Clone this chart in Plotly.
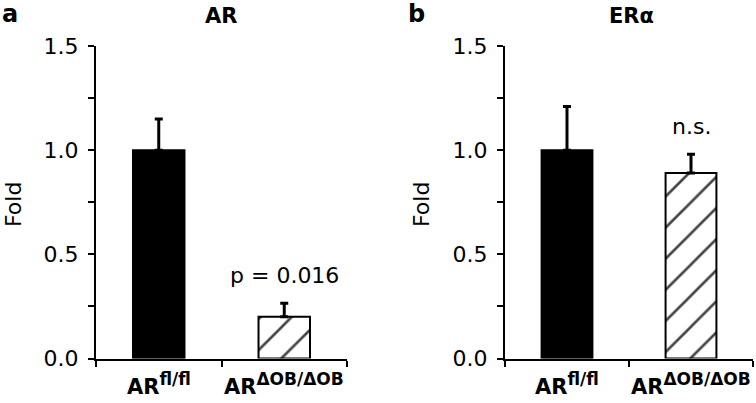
import plotly.graph_objects as go

categories = ["AR", "AR"]
category_sups = ["fl/fl", "ΔOB/ΔOB"]
ar_values = [1.0, 0.20]
ar_errors = [0.15, 0.065]
era_values = [1.0, 0.89]
era_errors = [0.21, 0.09]
titles = ["AR", "ERα"]
panel_letters = ["a", "b"]
annot_texts = ["p = 0.016", "n.s."]

W, H = 756, 403
FONT = "DejaVu Sans, Arial, sans-serif"

def px(x):
    return x / W

def py(y):
    return 1 - y / H

fig = go.Figure()

tick_labels = [f"<b>{c}<sup><span style='font-size:17px'>{s}</span></sup></b>"
               for c, s in zip(categories, category_sups)]

def add_panel(idx, values, errors):
    xa = "x" if idx == 0 else "x2"
    ya = "y" if idx == 0 else "y2"
    fig.add_trace(go.Bar(
        x=[0, 1], y=values,
        xaxis=xa, yaxis=ya, width=0.41,
        marker=dict(
            color=["black", "white"],
            line=dict(color="black", width=2),
            pattern=dict(shape=["", "/"], fgcolor="#2a2a2a", fgopacity=1, bgcolor="white",
                         size=22, solidity=0.12, fillmode="overlay"),
        ),
        error_y=dict(type="data", array=errors, arrayminus=[0, 0], symmetric=False,
                     color="black", thickness=3, width=4),
        showlegend=False,
        hoverinfo="skip",
    ))

add_panel(0, ar_values, ar_errors)
add_panel(1, era_values, era_errors)

axis_common_x = dict(
    type="linear", range=[-0.5, 1.5],
    tickvals=[-0.5, 0.5, 1.5], ticks="outside", ticklen=6, tickwidth=2,
    tickcolor="black", showticklabels=False,
    showline=True, linecolor="black", linewidth=2, showgrid=False, zeroline=False,
    automargin=False, fixedrange=True,
)
axis_common_y = dict(
    range=[0, 1.5], tickvals=[0, 0.5, 1.0, 1.5], ticktext=["0.0", "0.5", "1.0", "1.5"],
    ticks="outside", ticklen=6, tickwidth=2, tickcolor="black", ticklabelstandoff=5,
    minor=dict(tickvals=[0.25, 0.75, 1.25], ticks="outside", ticklen=6, tickwidth=2, tickcolor="black"),
    showline=True, linecolor="black", linewidth=2, showgrid=False, zeroline=False,
    tickfont=dict(family=FONT, size=22, color="black"), automargin=False, fixedrange=True,
)

ydom = [py(358.5), py(46)]
fig.update_layout(
    width=W, height=H, margin=dict(l=0, r=0, t=0, b=0),
    paper_bgcolor="white", plot_bgcolor="white",
    xaxis=dict(domain=[px(96), px(347)], anchor="y", **axis_common_x),
    yaxis=dict(domain=ydom, anchor="x", **axis_common_y),
    xaxis2=dict(domain=[px(505), px(753)], anchor="y2", **axis_common_x),
    yaxis2=dict(domain=ydom, anchor="x2", **axis_common_y),
    font=dict(family=FONT, color="black"),
)

anns = []
C = dict(xanchor="center", yanchor="middle", showarrow=False)
# category labels (under each bar)
for xr, yr in (("x", "y"), ("x2", "y2")):
    for i, lab in enumerate(tick_labels):
        anns.append(dict(text=lab, x=i, y=0, xref=xr, yref=yr, xanchor="center", yanchor="top",
                         yshift=-8, showarrow=False, font=dict(size=21, family=FONT)))
# panel letters
anns.append(dict(text=f"<b>{panel_letters[0]}</b>", x=px(10), y=py(14), xref="paper", yref="paper",
                 font=dict(size=24, family=FONT), **C))
anns.append(dict(text=f"<b>{panel_letters[1]}</b>", x=px(416), y=py(14), xref="paper", yref="paper",
                 font=dict(size=24, family=FONT), **C))
# titles
anns.append(dict(text=f"<b>{titles[0]}</b>", x=px(221), y=py(16), xref="paper", yref="paper",
                 font=dict(size=21, family=FONT), **C))
anns.append(dict(text=f"<b>{titles[1]}</b>", x=px(631), y=py(16), xref="paper", yref="paper",
                 font=dict(size=21, family=FONT), **C))
# y titles
anns.append(dict(text="Fold", x=px(13), y=py(205), xref="paper", yref="paper", textangle=-90,
                 font=dict(size=22, family=FONT), **C))
anns.append(dict(text="Fold", x=px(421), y=py(205), xref="paper", yref="paper", textangle=-90,
                 font=dict(size=22, family=FONT), **C))
# significance annotations
anns.append(dict(text=annot_texts[0], x=1, y=ar_values[1] + ar_errors[1], xref="x", yref="y",
                 yshift=28, font=dict(size=22, family=FONT), **C))
anns.append(dict(text=annot_texts[1], x=1, y=era_values[1] + era_errors[1], xref="x2", yref="y2",
                 yshift=28, font=dict(size=22, family=FONT), **C))
fig.update_layout(annotations=anns)

fig.write_html(
    "out.html",
    config={"displayModeBar": False, "staticPlot": True},
    post_script="document.body.style.margin='0';document.body.style.overflow='hidden';",
)
